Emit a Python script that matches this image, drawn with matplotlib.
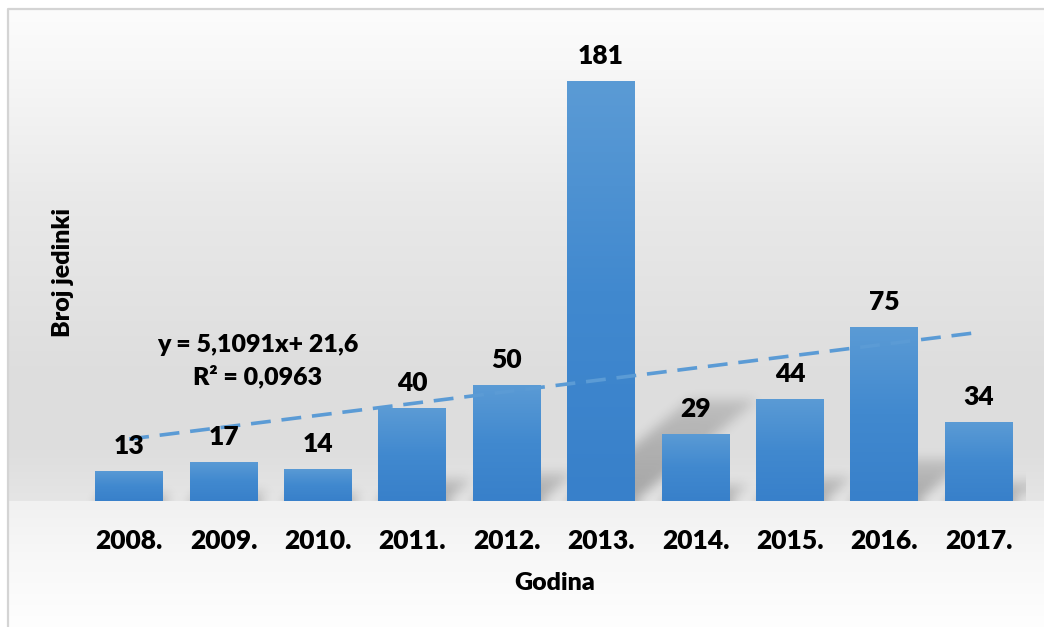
import numpy as np
import matplotlib
matplotlib.use('Agg')
from matplotlib import pyplot as plt
from matplotlib.colors import LinearSegmentedColormap

years = ['2008.', '2009.', '2010.', '2011.', '2012.', '2013.', '2014.', '2015.', '2016.', '2017.']
counts = [13, 17, 14, 40, 50, 181, 29, 44, 75, 34]
eq_text = 'y = 5,1091x+ 21,6'
r2_text = 'R² = 0,0963'

W, H = 1044, 627
plt.rcParams['font.family'] = ['Lato', 'DejaVu Sans']
wt = 'heavy'

fig = plt.figure(figsize=(W / 100, H / 100), dpi=100)

# background gradient (pixel rows from the top)
rows = np.arange(H)
stops_y = [0, 9, 60, 200, 380, 450, 500, 501, 560, 627]
stops_v = [255, 252, 248, 233, 221, 222, 229, 241, 248, 254]
vals = np.interp(rows, stops_y, stops_v) / 255.0
bg = np.repeat(vals[:, None], W, axis=1)
bg[:, :8] = 1.0
bg[:9, :] = 1.0
bga = fig.add_axes([0, 0, 1, 1])
bga.imshow(np.dstack([bg, bg, bg]), aspect='auto', extent=[0, W, H, 0], interpolation='bilinear')
bga.plot([8, 8, W], [H, 9, 9], color='#d4d4d4', lw=1.6)
bga.set_xlim(0, W)
bga.set_ylim(H, 0)
bga.axis('off')

# main axes in pixel placement
left, right, base, top = 82, 1026, 501, 37
ax = fig.add_axes([left / W, (H - base) / H, (right - left) / W, (base - top) / H])
ax.patch.set_alpha(0)
ymax = 200
ax.set_xlim(-0.5, len(years) - 0.5)
ax.set_ylim(0, ymax)

x = np.arange(len(years))
bw = 0.72

# soft perspective shadows behind the bars
pw, ph = right - left, base - top
sx = pw / len(years)
sy = ph / ymax
gx, gy = np.meshgrid(np.arange(pw) + 0.5, np.arange(ph) + 0.5)
mask = np.zeros((ph, pw))
for xi, c in zip(x, counts):
    hpx = c * sy
    sh = 0.24 * hpx
    shift = 0.29 * hpx
    xl = (xi + 0.5 - bw / 2) * sx
    xr = (xi + 0.5 + bw / 2) * sx
    t = gy / sh
    xs = gx - t * shift
    inside = (t <= 1) & (xs >= xl) & (xs <= xr)
    mask = np.maximum(mask, inside * (1 - 0.5 * np.clip(t, 0, 1)))
def box_blur(a, r):
    for axis in (0, 1):
        pad = [(0, 0), (0, 0)]
        pad[axis] = (r + 1, r)
        c = np.cumsum(np.pad(a, pad, mode='edge'), axis=axis)
        if axis == 0:
            a = (c[2 * r + 1:, :] - c[:-2 * r - 1, :]) / (2 * r + 1)
        else:
            a = (c[:, 2 * r + 1:] - c[:, :-2 * r - 1]) / (2 * r + 1)
    return a
for _ in range(3):
    mask = box_blur(mask, 5)
shadow = np.zeros((ph, pw, 4))
shadow[..., 3] = mask * 0.28
ax.imshow(shadow, extent=[-0.5, len(years) - 0.5, 0, ymax], origin='lower',
          aspect='auto', zorder=1, interpolation='bilinear')

# bars with vertical gradient
cmap = LinearSegmentedColormap.from_list('barg', ['#3880ca', '#4189cf', '#5b9bd5'])
bars = ax.bar(x, counts, width=bw, color='none', edgecolor='none', zorder=2)
grad = np.linspace(0, 1, 256)[:, None]
for b in bars:
    bx, by = b.get_x(), b.get_y()
    im = ax.imshow(grad, cmap=cmap, origin='lower', aspect='auto',
                   extent=[bx, bx + b.get_width(), by, by + b.get_height()], zorder=2)
    im.set_clip_path(b)

for xi, c in zip(x, counts):
    ax.annotate(str(c), (xi, c), xytext=(0, 18), textcoords='offset points',
                ha='center', va='center', fontsize=19, fontweight=wt, zorder=5)

# linear trendline
k, n = np.polyfit(x + 1, counts, 1)
tx = np.array([x[0], x[-1]])
ax.plot(tx, k * (tx + 1) + n, color='#5b9bd5', lw=2.6, dashes=(5.5, 3), zorder=4)

ax.set_xticks(x)
ax.set_xticklabels(years, fontsize=19, fontweight=wt)
ax.tick_params(axis='x', length=0, pad=20)
ax.set_yticks([])
for s in ax.spines.values():
    s.set_visible(False)

fig.text(63 / W, 1 - 273 / H, 'Broj jedinki', rotation=90, ha='center', va='center',
         fontsize=18, fontweight=wt)
fig.text(555 / W, 1 - 583 / H, 'Godina', ha='center', va='center', fontsize=18, fontweight=wt)
fig.text(258 / W, 1 - 345 / H, eq_text, ha='center', va='center', fontsize=18, fontweight=wt)
fig.text(258 / W, 1 - 376 / H, r2_text, ha='center', va='center', fontsize=18, fontweight=wt)

fig.savefig('out.png', dpi=100)
